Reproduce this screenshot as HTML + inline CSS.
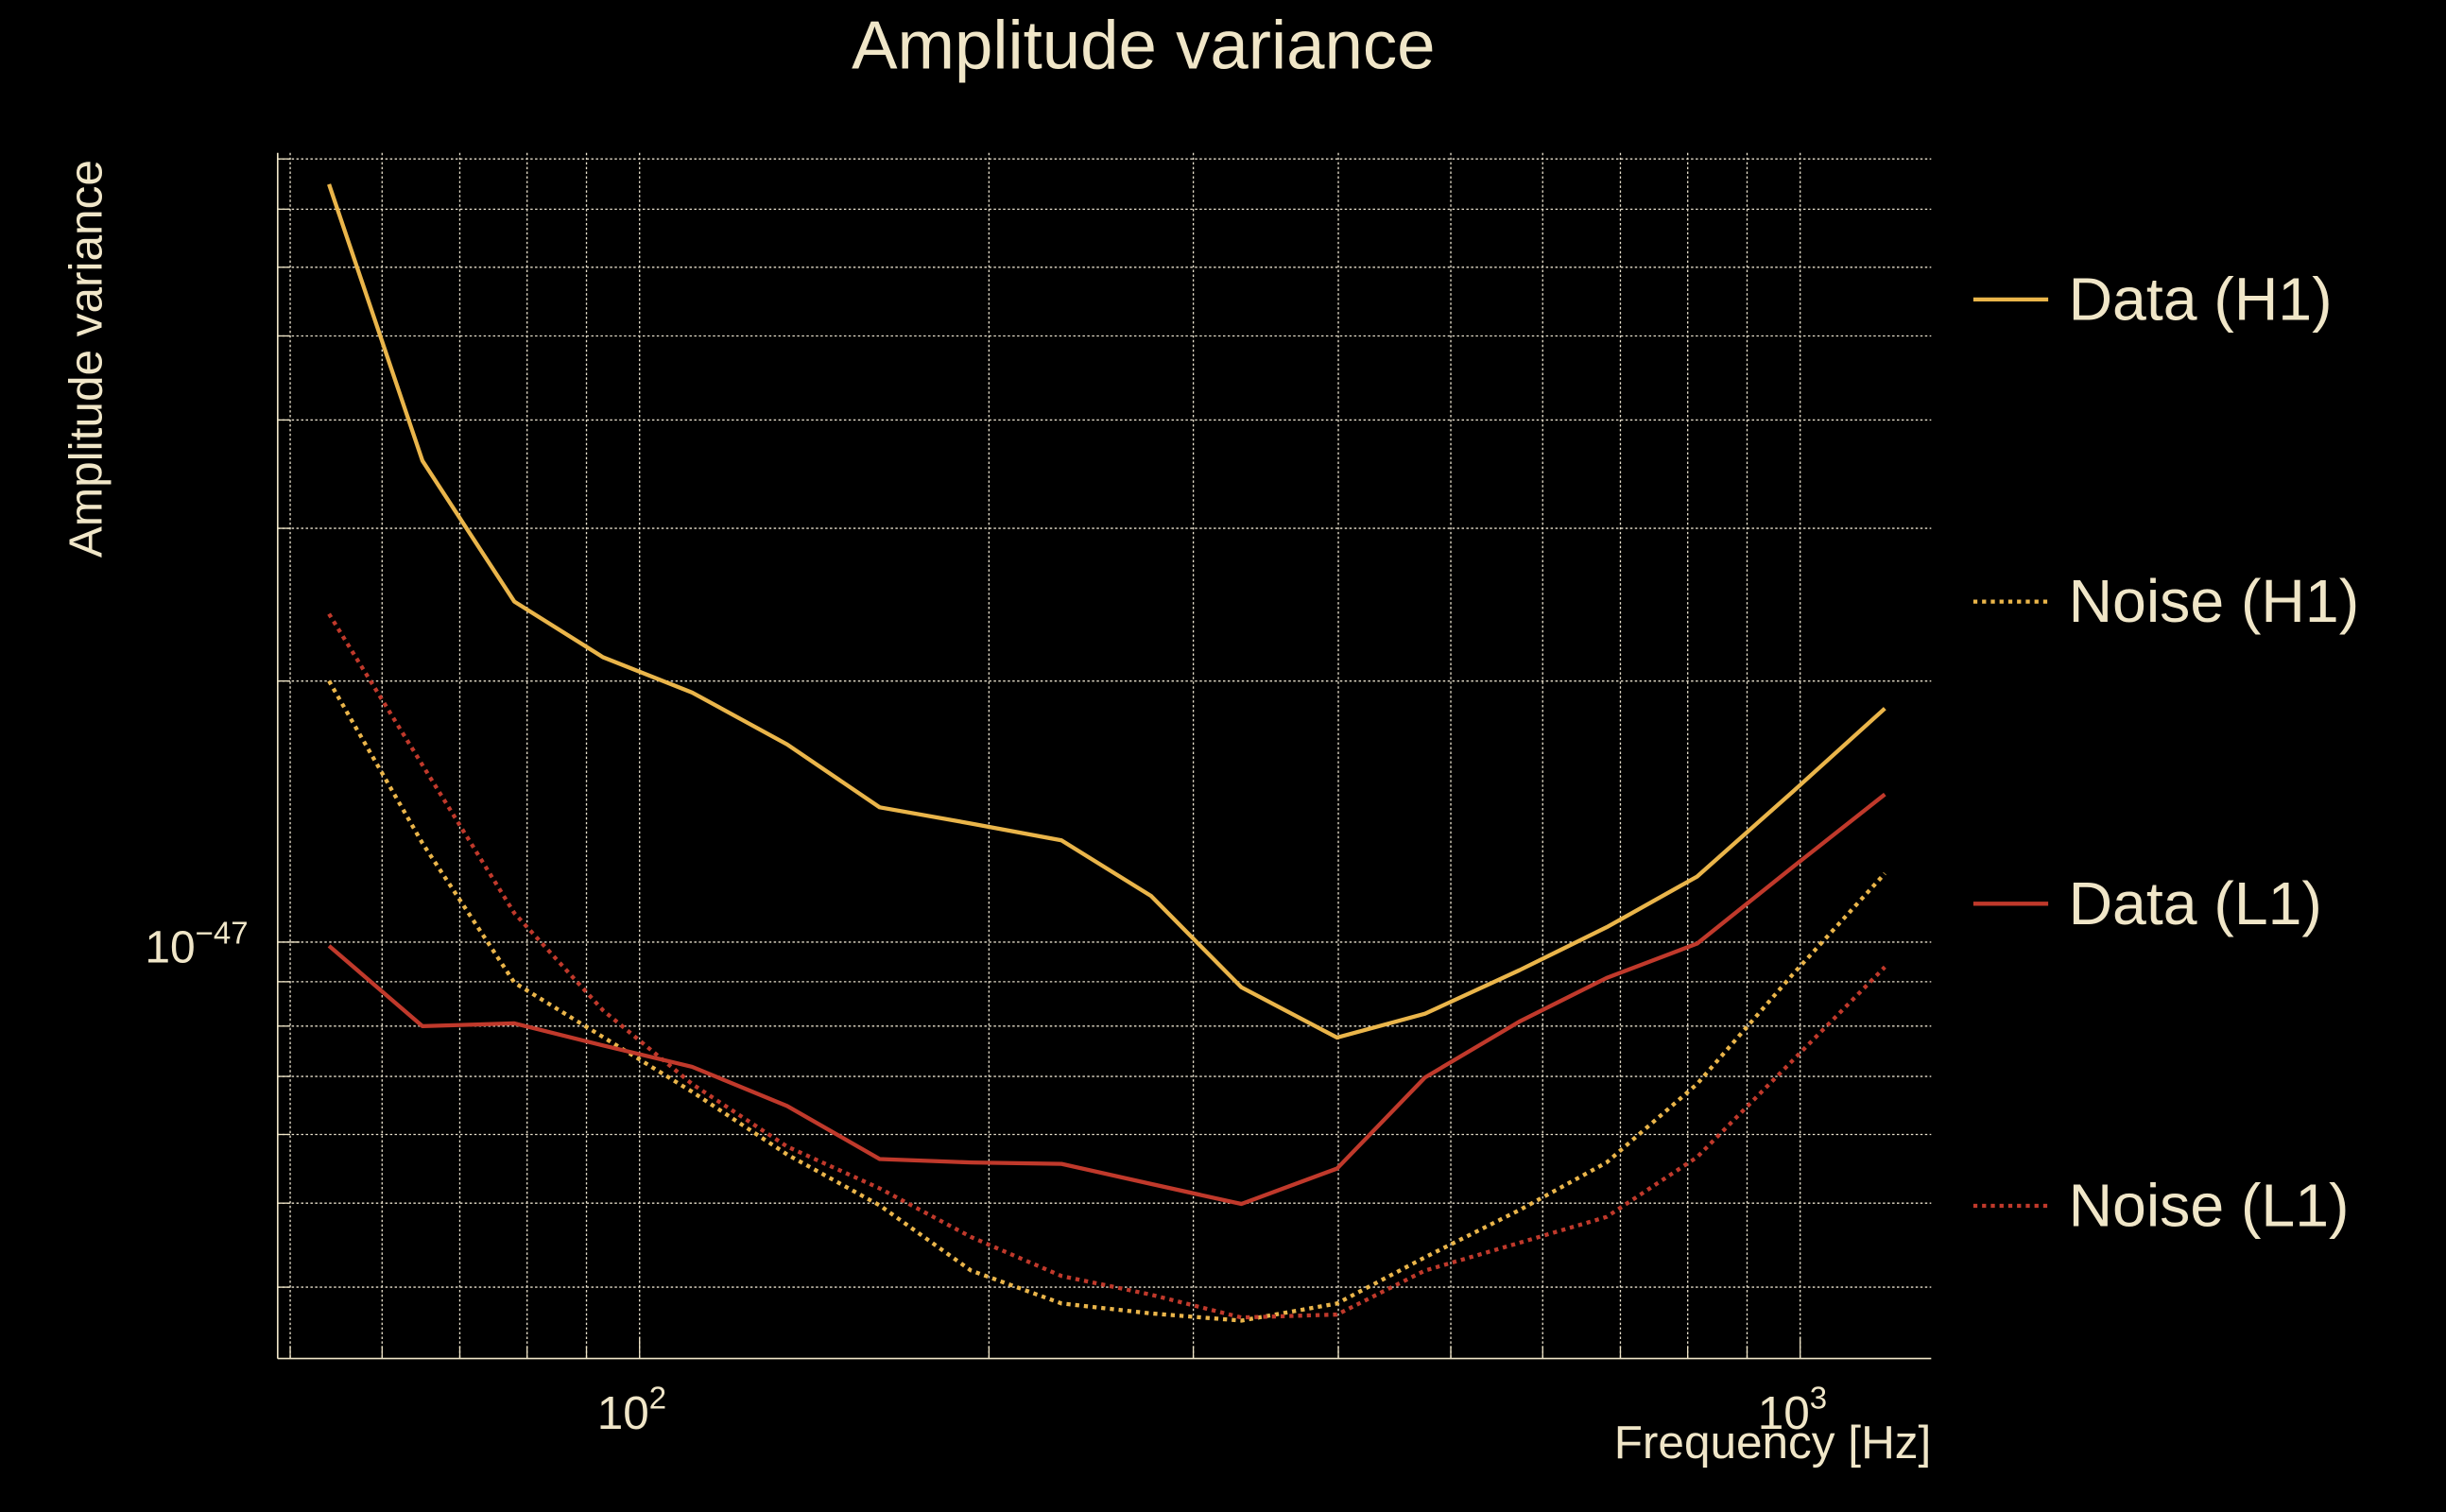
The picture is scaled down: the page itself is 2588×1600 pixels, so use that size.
<!DOCTYPE html>
<html><head><meta charset="utf-8"><style>
html,body{margin:0;padding:0;background:#000;width:2588px;height:1600px;overflow:hidden}
svg{display:block}
text{font-family:"Liberation Sans",sans-serif;fill:#f0e6c8}
</style></head><body>
<svg id="chart" width="2588" height="1600" viewBox="0 0 1568 969.4" xmlns="http://www.w3.org/2000/svg">
<rect width="1568" height="969.4" fill="#000"/>
<text x="733" y="44" font-size="44" text-anchor="middle">Amplitude variance</text>
<text transform="translate(65,230) rotate(-90)" font-size="30" text-anchor="middle">Amplitude variance</text>
<text x="1238" y="935" font-size="30" text-anchor="end">Frequency [Hz]</text>
<g id="grid"></g>
<g id="axes"></g>
<g id="series"></g>
<g id="legend"></g>
</svg>
<script>
const freqs = [54,65,78,93,111,134,161,193,231,276,330,399,475,573,681,815,985,1183];
const dataH1 = [7.48,3.59,2.47,2.13,1.94,1.69,1.43,1.37,1.31,1.13,0.887,0.776,0.827,0.928,1.04,1.19,1.49,1.86];
const noiseH1 = [2.0,1.30,0.898,0.777,0.672,0.569,0.497,0.418,0.383,0.373,0.366,0.383,0.433,0.491,0.557,0.686,0.917,1.2];
const dataL1 = [0.99,0.80,0.806,0.76,0.718,0.647,0.562,0.557,0.555,0.526,0.499,0.548,0.698,0.81,0.909,0.996,1.22,1.48];
const noiseL1 = [2.39,1.60,1.08,0.834,0.686,0.581,0.52,0.457,0.412,0.392,0.369,0.372,0.418,0.45,0.482,0.565,0.73,0.936];
const seriesNames = ["Data (H1)","Noise (H1)","Data (L1)","Noise (L1)"];
const yScaleExp = -47; // values in units of 1e-47

const NS="http://www.w3.org/2000/svg";
const L=178,R=1238,T=98,B=871;
function xs(f){return 410+(Math.log10(f)-2)*744;}
function ys(v){return 604-Math.log10(v)*556;}
function mk(tag,attrs,parent){const e=document.createElementNS(NS,tag);for(const k in attrs)e.setAttribute(k,attrs[k]);parent.appendChild(e);return e;}
const grid=document.getElementById('grid'),axes=document.getElementById('axes'),ser=document.getElementById('series'),leg=document.getElementById('legend');

const xGrid=[50,60,70,80,90,100,200,300,400,500,600,700,800,900,1000];
xGrid.forEach(f=>{const x=xs(f);if(x<L||x>R)return;
 const g=mk('line',{x1:x,x2:x,y1:T,y2:B,stroke:'#e8e0cc','stroke-width':0.8,'stroke-dasharray':'1.5 1.5'},grid);
 
 
 const t=mk('line',{x1:x,x2:x,y1:B,y2:B-(f===100||f===1000?14:8),stroke:'#f0e6c8','stroke-width':0.8},axes);
 
 
});
const yGrid=[0.4,0.5,0.6,0.7,0.8,0.9,1,2,3,4,5,6,7,8];
yGrid.forEach(v=>{const y=ys(v);if(y<T-1||y>B)return;
 const g=mk('line',{x1:L,x2:R,y1:y,y2:y,stroke:'#e8e0cc','stroke-width':0.8,'stroke-dasharray':'1.5 1.5'},grid);
 
 
 const t=mk('line',{x1:L,x2:L+(v===1?14:8),y1:y,y2:y,stroke:'#f0e6c8','stroke-width':0.8},axes);
 
 
});
let a=mk('line',{x1:L,x2:L,y1:T,y2:B,stroke:'#f0e6c8','stroke-width':1},axes);


a=mk('line',{x1:L,x2:R,y1:B,y2:B,stroke:'#f0e6c8','stroke-width':1},axes);


[[100,'2'],[1000,'3']].forEach(([f,e])=>{
 const t=mk('text',{x:xs(f)-5,y:916,'font-size':30,'text-anchor':'middle'},axes);
 
 
 t.textContent='10';
 const s=mk('tspan',{dy:-13,'font-size':20},t);s.textContent=e;
});
const yl=mk('text',{x:126,y:617,'font-size':29,'text-anchor':'middle'},axes);


yl.textContent='10';
const ys2=mk('tspan',{dy:-12,'font-size':20},yl);ys2.textContent='\u2212'+String(-yScaleExp);

const styles=[
 {vals:dataH1,color:'#eab54a',dash:null,name:'data-h1'},
 {vals:noiseH1,color:'#eab54a',dash:'2.6 3',name:'noise-h1'},
 {vals:dataL1,color:'#c0392b',dash:null,name:'data-l1'},
 {vals:noiseL1,color:'#c0392b',dash:'2.6 3',name:'noise-l1'}];
styles.forEach((s,i)=>{
 const pts=freqs.map((f,j)=>xs(f).toFixed(1)+','+ys(s.vals[j]).toFixed(1)).join(' ');
 const attrs={points:pts,fill:'none',stroke:s.color,'stroke-width':2.6,'stroke-linejoin':'round'};
 if(s.dash)attrs['stroke-dasharray']=s.dash;
 const p=mk('polyline',attrs,ser);
 
 
 const ly=192+i*193.7;
 const g=mk('g',{},leg);
 
 
 const la={x1:1265,x2:1313,y1:ly,y2:ly,stroke:s.color,'stroke-width':2.6};
 if(s.dash)la['stroke-dasharray']=s.dash;
 mk('line',la,g);
 const t=mk('text',{x:1326,y:ly+13,'font-size':39},g);
 t.textContent=seriesNames[i];
});
</script>
</body></html>
